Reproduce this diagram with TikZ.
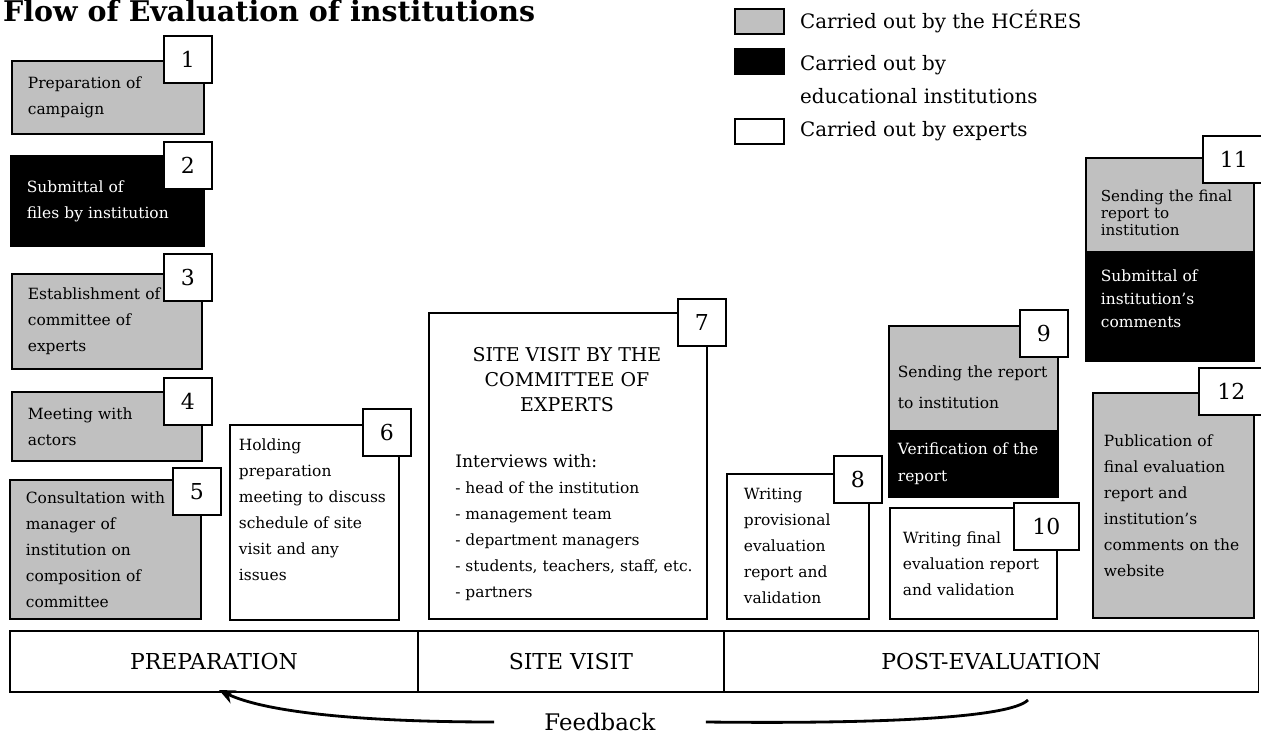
\documentclass[tikz,border=0pt]{standalone}
\usepackage{fontspec}
\setmainfont{DejaVu Serif}
\usetikzlibrary{positioning,arrows.meta}
\definecolor{hcgray}{HTML}{C0C0C0}

\begin{document}
\begin{tikzpicture}[x=0.02cm, y=-0.02cm,
  every node/.style={font=\fontsize{8.8}{14.8}\selectfont},
  stage/.style={draw, line width=1pt, anchor=north west, align=left, inner xsep=0.32cm, inner ysep=0pt},
  hc/.style={stage, fill=hcgray},
  inst/.style={stage, fill=black, text=white},
  expt/.style={stage, fill=white},
  num/.style={draw, line width=1pt, fill=white, anchor=north west, minimum width=0.96cm, minimum height=0.94cm, inner sep=0pt, font=\fontsize{12.5}{14}\selectfont},
  key/.style={draw, line width=1pt, anchor=north west, minimum width=0.98cm, minimum height=0.5cm, inner sep=0pt},
  keytext/.style={inner sep=0pt, align=left, font=\fontsize{11.3}{18.7}\selectfont},
  phase/.style={draw, line width=0.8pt, outer sep=0pt, anchor=north west, minimum height=1.22cm, font=\fontsize{12.5}{14}\selectfont}]
  \useasboundingbox (0,0) rectangle (1261,736);

  \node[anchor=base west, font=\fontsize{16.2}{19}\bfseries] (title) at (-3,22) {Flow of Evaluation of institutions};

  \node[key, fill=hcgray] (keyhc) at (734,8) {};
  \node[keytext, right=0.3cm of keyhc] (keyhctext) {Carried out by the HCÉRES};
  \node[key, fill=black] (keyinst) at (734,48) {};
  \node[keytext, right=0.3cm of keyinst, yshift=-0.36cm] (keyinsttext) {Carried out by\\educational institutions};
  \node[key, fill=white] (keyexp) at (734,118) {};
  \node[keytext, right=0.3cm of keyexp] (keyexptext) {Carried out by experts};

  \node[hc, minimum width=3.84cm, minimum height=1.46cm, text width=3.20cm] (prep1) at (11,60) {Preparation of\\campaign};
  \node[inst, minimum width=3.86cm, minimum height=1.80cm, text width=3.22cm] (prep2) at (10,155) {Submittal of\\files by institution};
  \node[hc, minimum width=3.80cm, minimum height=1.90cm, text width=3.16cm] (prep3) at (11,273) {Establishment of\\committee of\\experts};
  \node[hc, minimum width=3.80cm, minimum height=1.38cm, text width=3.16cm] (prep4) at (11,391) {Meeting with\\actors};
  \node[hc, minimum width=3.82cm, minimum height=2.78cm, text width=3.18cm] (prep5) at (9,479) {Consultation with\\manager of\\institution on\\composition of\\committee};
  \node[expt, inner xsep=0.18cm, minimum width=3.38cm, minimum height=3.90cm, text width=3.02cm] (prep6) at (229,424) {Holding\\preparation\\meeting to discuss\\schedule of site\\visit and any\\issues\\\mbox{}};

  \node[expt, minimum width=5.56cm, minimum height=6.12cm] (visit7) at (428,312) {};
  \node[align=center, font=\fontsize{10.8}{14.2}\selectfont] (visithead) at (567,380) {SITE VISIT BY THE\\COMMITTEE OF\\EXPERTS};
  \node[anchor=north west, align=left, inner sep=0pt] (visitlist) at (455,454) {{\fontsize{9.8}{14.8}\selectfont Interviews with:}\\- head of the institution\\- management team\\- department managers\\- students, teachers, staff, etc.\\- partners};

  \node[expt, inner xsep=0.34cm, minimum width=2.84cm, minimum height=2.90cm, text width=2.16cm] (post8) at (726,473) {Writing\\provisional\\evaluation\\report and\\validation};
  \node[hc, inner xsep=0.18cm, minimum width=3.38cm, minimum height=2.10cm, text width=3.02cm, font=\fontsize{8.8}{17.6}\selectfont] (post9) at (888,325) {\mbox{}\\[-1pt]Sending the report\\to institution};
  \node[inst, inner xsep=0.18cm, minimum width=3.38cm, minimum height=1.32cm, text width=3.02cm, font=\fontsize{8.8}{15.4}\selectfont] (post9b) at (888,430) {Verification of the\\report};
  \node[expt, inner xsep=0.26cm, minimum width=3.34cm, minimum height=2.22cm, text width=2.82cm] (post10) at (889,507) {Writing final\\evaluation report\\and validation};
  \node[hc, inner xsep=0.3cm, minimum width=3.36cm, minimum height=1.88cm, text width=2.76cm, font=\fontsize{8.6}{9.7}\selectfont] (post11) at (1085,157) {\mbox{}\\[6pt]Sending the final\\report to\\institution};
  \node[inst, inner xsep=0.3cm, minimum width=3.36cm, minimum height=2.18cm, text width=2.76cm, font=\fontsize{8.8}{13}\selectfont] (post11b) at (1085,251) {Submittal of\\institution’s\\comments\\[-4pt]\mbox{}};
  \node[hc, inner xsep=0.22cm, minimum width=3.22cm, minimum height=4.50cm, text width=2.78cm] (post12) at (1092,392) {Publication of\\final evaluation\\report and\\institution’s\\comments on the\\website};

  \node[num] (n1) at (163,35) {1};
  \node[num] (n2) at (163,141) {2};
  \node[num] (n3) at (163,253) {3};
  \node[num] (n4) at (163,377) {4};
  \node[num] (n5) at (172,467) {5};
  \node[num] (n6) at (362,408) {6};
  \node[num] (n7) at (677,298) {7};
  \node[num] (n8) at (833,455) {8};
  \node[num] (n9) at (1019,309) {9};
  \node[num, minimum width=1.30cm] (n10) at (1013,502) {10};
  \node[num, minimum width=1.24cm] (n11) at (1202,135) {11};
  \node[num, minimum width=1.30cm] (n12) at (1198,367) {12};

  \node[phase, minimum width=8.16cm] (prep) at (10,631) {PREPARATION};
  \node[phase, minimum width=6.12cm] (visit) at (prep.north east) {SITE VISIT};
  \node[phase, minimum width=10.70cm] (post) at (visit.north east) {POST-EVALUATION};

  \node[font=\fontsize{13}{15}\selectfont, inner xsep=1.0cm] (fb) at (600,722) {Feedback};
  \coordinate (fbL) at (219,690);
  \coordinate (fbR) at (1028,700);
  \draw[line width=1.6pt, -{Stealth[length=0.32cm, width=0.28cm]}] (fb.west) .. controls (360,722) and (265,712) .. (fbL);
  \draw[line width=1.6pt] (fb.east) .. controls (880,724) and (1010,718) .. (fbR);
\end{tikzpicture}
\end{document}
